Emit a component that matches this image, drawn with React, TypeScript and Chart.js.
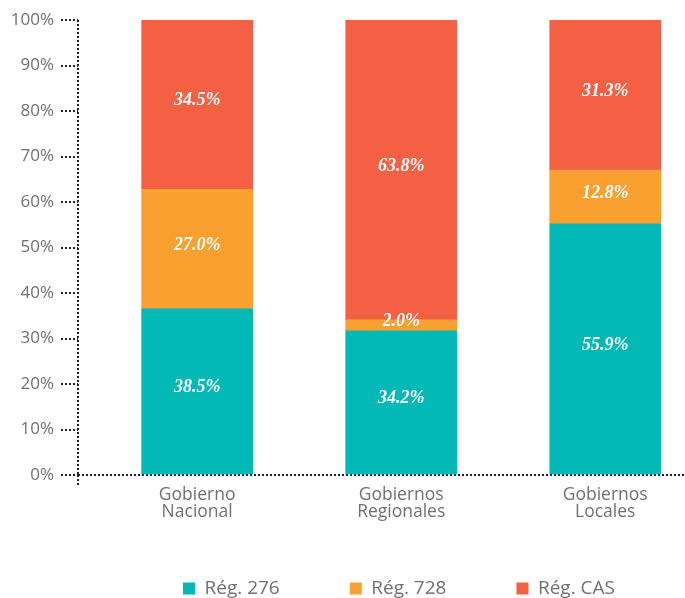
import React, { useEffect, useRef } from 'react';
import { Chart, registerables } from 'chart.js';

Chart.register(...registerables);

// ---- data ----
const categories: string[][] = [
  ['Gobierno', 'Nacional'],
  ['Gobiernos', 'Regionales'],
  ['Gobiernos', 'Locales'],
];
const seriesNames = ['Rég. 276', 'Rég. 728', 'Rég. CAS'];
const reg276 = [36.5, 31.7, 55.2];
const reg728 = [26.3, 2.4, 11.8];
const regCAS = [37.2, 65.9, 33.0];
const reg276Labels = ['38.5%', '34.2%', '55.9%'];
const reg728Labels = ['27.0%', '2.0%', '12.8%'];
const regCASLabels = ['34.5%', '63.8%', '31.3%'];
const yMin = 0;
const yMax = 100;
const yStep = 10;

const seriesValues = [reg276, reg728, regCAS];
const seriesLabels = [reg276Labels, reg728Labels, regCASLabels];
const seriesColors = ['#03B9B5', '#F9A031', '#F46044'];

const barLabelsPlugin = {
  id: 'barLabels',
  afterDatasetsDraw(chart: any) {
    const ctx = chart.ctx;
    ctx.save();
    ctx.font = 'italic bold 18px "Liberation Serif"';
    ctx.fillStyle = '#ffffff';
    ctx.textAlign = 'center';
    ctx.textBaseline = 'middle';
    chart.data.datasets.forEach((_ds: any, i: number) => {
      const meta = chart.getDatasetMeta(i);
      meta.data.forEach((el: any, j: number) => {
        const p = el.getProps(['x', 'y', 'base'], true);
        ctx.fillText(seriesLabels[i][j], p.x, (p.y + p.base) / 2 - 4);
      });
    });
    ctx.restore();
  },
};

// lifts the legend row a little closer to the axis labels
const legendLiftPlugin = {
  id: 'legendLift',
  afterLayout(chart: any) {
    const lg = chart.legend;
    if (!lg) return;
    lg.top -= 12;
    lg.bottom -= 12;
  },
};

export default function App() {
  const ref = useRef<HTMLCanvasElement | null>(null);

  useEffect(() => {
    if (!ref.current) return;
    Chart.defaults.font.family = '"Open Sans", "Noto Sans", sans-serif';
    const dotted = [2, 2];
    const axisColor = '#222222';
    const clear = 'rgba(0,0,0,0)';
    const textColor = '#707070';
    const chart = new Chart(ref.current, {
      type: 'bar',
      data: {
        datasets: seriesValues.map((vals, i) => ({
          label: seriesNames[i],
          data: vals.map((v, k) => ({ x: k, y: v })),
          backgroundColor: seriesColors[i],
          borderWidth: 0,
          barThickness: 111,
        })),
      },
      options: {
        animation: false,
        responsive: true,
        maintainAspectRatio: false,
        layout: { padding: { top: 20, bottom: -22, left: 0, right: 0 } },
        scales: {
          x: {
            type: 'linear',
            min: -0.584,
            max: 2.391,
            offset: false,
            stacked: true,
            afterBuildTicks: (s: any) => {
              s.ticks = [s.min, 0, 1, 2].map((v: number) => ({ value: v }));
            },
            grid: {
              display: true,
              offset: false,
              drawOnChartArea: true,
              drawTicks: true,
              lineWidth: 2,
              color: (c: any) => (c.index === 0 ? axisColor : clear),
              tickLength: 11,
              tickWidth: 2,
              tickBorderDash: dotted,
              tickColor: (c: any) => (c.index === 0 ? axisColor : clear),
            },
            border: { display: false, dash: dotted },
            ticks: {
              autoSkip: false,
              maxRotation: 0,
              padding: 0,
              color: textColor,
              font: { size: 17.5, lineHeight: 1 },
              callback: (v: any) =>
                Number.isInteger(v) && v >= 0 && v < categories.length ? categories[v] : '',
            },
          },
          y: {
            min: yMin,
            max: yMax,
            stacked: true,
            afterFit: (s: any) => {
              s.width = 78;
            },
            grid: {
              display: true,
              drawOnChartArea: true,
              drawTicks: true,
              lineWidth: 2,
              color: (c: any) => (c.index === 0 ? axisColor : clear),
              tickLength: 17,
              tickWidth: 2,
              tickBorderDash: dotted,
              tickColor: axisColor,
            },
            border: { display: false, dash: dotted },
            ticks: {
              stepSize: yStep,
              padding: 7,
              color: textColor,
              font: { size: 17 },
              callback: (v: any) => v + '%',
            },
          },
        },
        plugins: {
          legend: {
            position: 'bottom',
            align: 'end',
            labels: {
              boxWidth: 12,
              boxHeight: 12,
              padding: 70,
              color: textColor,
              font: { size: 19 },
            },
          },
          tooltip: { enabled: false },
        },
      },
      plugins: [barLabelsPlugin, legendLiftPlugin],
    } as any);
    return () => chart.destroy();
  }, []);

  return (
    <div style={{ position: 'absolute', left: 0, top: 0, width: 685, height: 598 }}>
      <canvas ref={ref} />
    </div>
  );
}
